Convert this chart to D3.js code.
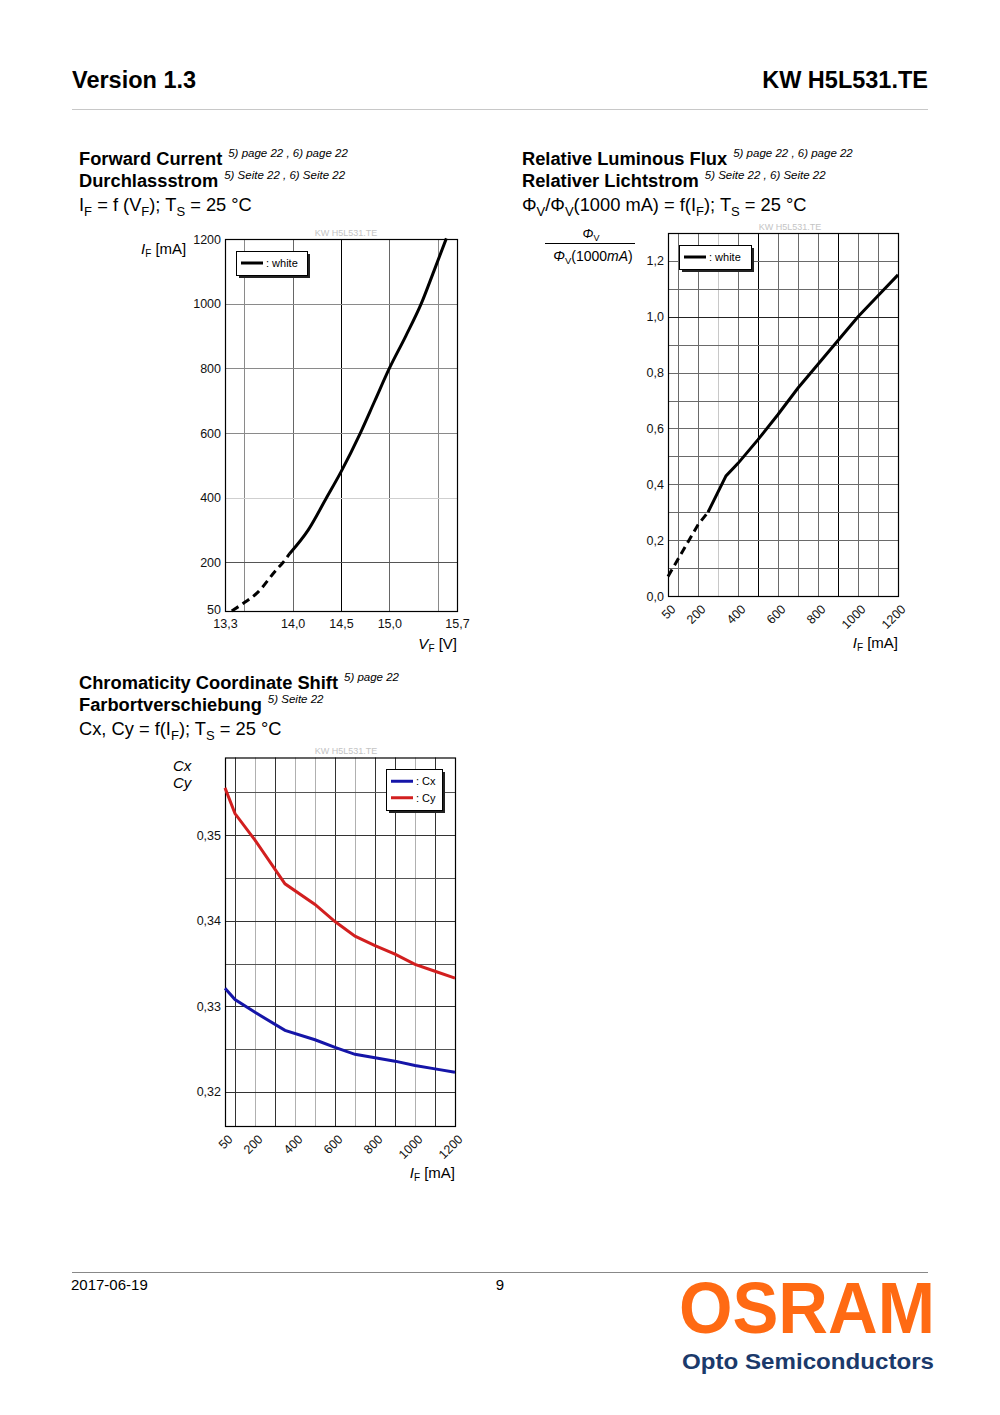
<!DOCTYPE html>
<html><head><meta charset="utf-8">
<script src="https://cdn.jsdelivr.net/npm/d3@7"></script>
<style>
html,body{margin:0;padding:0;background:#fff;}
svg{display:block;font-family:"Liberation Sans",Arial,Helvetica,sans-serif;}
</style></head>
<body>
<svg id="page" width="1000" height="1415"></svg>
<script>
// ---------- DATA ----------
// Chart 1: Forward current vs forward voltage
const vfVolt = [13.37, 13.49, 13.63, 13.83, 13.90, 13.97, 14.16, 14.35, 14.50, 14.70, 14.85, 15.00, 15.17, 15.33, 15.46, 15.59];
const vfCurrent = [50, 74, 105, 177, 200, 228, 300, 400, 480, 600, 700, 800, 900, 1000, 1100, 1202];
const vfDashedUntil = 5; // index where dashed part ends
const vfXTicks = [13.3, 14.0, 14.5, 15.0, 15.7];
const vfXGrid = [13.5, 14.0, 14.5, 15.0, 15.5];
const vfYTicks = [50, 200, 400, 600, 800, 1000, 1200];
const vfYGrid = [200, 400, 600, 800, 1000];

// Chart 2: Relative luminous flux vs forward current
const fluxCurrent = [50, 200, 250, 340, 400, 500, 600, 700, 800, 900, 1000, 1100, 1200];
const fluxRel = [0.07, 0.255, 0.30, 0.43, 0.475, 0.56, 0.65, 0.745, 0.83, 0.915, 1.0, 1.075, 1.15];
const fluxDashedUntil = 2;
const fluxXTicks = [50, 200, 400, 600, 800, 1000, 1200];
const fluxXGrid = [100, 200, 300, 400, 500, 600, 700, 800, 900, 1000, 1100];
const fluxYTicks = [0.0, 0.2, 0.4, 0.6, 0.8, 1.0, 1.2];
const fluxYGrid = [0.1, 0.2, 0.3, 0.4, 0.5, 0.6, 0.7, 0.8, 0.9, 1.0, 1.1, 1.2];

// Chart 3: Chromaticity coordinate shift
const chromCurrent = [50, 100, 200, 350, 500, 600, 700, 800, 900, 1000, 1100, 1200];
const chromCx = [0.3321, 0.3308, 0.3293, 0.3272, 0.3261, 0.3252, 0.3244, 0.3240, 0.3236, 0.3231, 0.3227, 0.3223];
const chromCy = [0.3555, 0.3525, 0.3494, 0.3443, 0.3419, 0.3399, 0.3382, 0.3371, 0.3361, 0.3349, 0.3341, 0.3333];
const chromXTicks = [50, 200, 400, 600, 800, 1000, 1200];
const chromXGrid = [100, 200, 300, 400, 500, 600, 700, 800, 900, 1000, 1100];
const chromYTicks = [0.32, 0.33, 0.34, 0.35];
const chromYGrid = [0.32, 0.325, 0.33, 0.335, 0.34, 0.345, 0.35, 0.355];

// ---------- STYLE ----------
const svg = d3.select("#page");
const fmtComma = d => d.toFixed(1).replace(".", ",");
const fmtComma2 = d => d.toFixed(2).replace(".", ",");

// header
svg.append("text").attr("x", 72).attr("y", 88).attr("font-size", 23.5).attr("font-weight", "bold").text("Version 1.3");
svg.append("text").attr("x", 928).attr("y", 88).attr("font-size", 23.5).attr("font-weight", "bold").attr("text-anchor", "end").text("KW H5L531.TE");
svg.append("line").attr("x1", 72).attr("x2", 928).attr("y1", 109.5).attr("y2", 109.5).attr("stroke", "#c8c8c8").attr("stroke-width", 1);

// footer
svg.append("line").attr("x1", 72).attr("x2", 928).attr("y1", 1272.5).attr("y2", 1272.5).attr("stroke", "#888").attr("stroke-width", 1);
svg.append("text").attr("x", 71).attr("y", 1290).attr("font-size", 15).text("2017-06-19");
svg.append("text").attr("x", 500).attr("y", 1290).attr("font-size", 15).attr("text-anchor", "middle").text("9");
svg.append("text").attr("x", 679).attr("y", 1333).attr("font-size", 72).attr("font-weight", "bold")
  .attr("fill", "#ff6a13").attr("textLength", 256).attr("lengthAdjust", "spacingAndGlyphs").text("OSRAM");
svg.append("text").attr("x", 682).attr("y", 1369).attr("font-size", 22).attr("font-weight", "bold")
  .attr("fill", "#1b3a6b").attr("textLength", 252).attr("lengthAdjust", "spacingAndGlyphs").text("Opto Semiconductors");

// title helper
function titleBlock(x, y, l1, s1, l2, s2) {
  const t1 = svg.append("text").attr("x", x).attr("y", y).attr("font-size", 18.3).attr("font-weight", "bold").text(l1);
  const w1 = t1.node().getComputedTextLength();
  svg.append("text").attr("x", x + w1 + 6).attr("y", y - 8).attr("font-size", 11.5).attr("font-style", "italic").text(s1);
  const t2 = svg.append("text").attr("x", x).attr("y", y + 22).attr("font-size", 18.3).attr("font-weight", "bold").text(l2);
  const w2 = t2.node().getComputedTextLength();
  svg.append("text").attr("x", x + w2 + 6).attr("y", y + 14).attr("font-size", 11.5).attr("font-style", "italic").text(s2);
}
function formula(x, y, arr) { // "_X" denotes subscript
  const t = svg.append("text").attr("x", x).attr("y", y).attr("font-size", 18.3);
  let prevSub = false;
  arr.forEach(s => {
    if (s.startsWith("_")) { t.append("tspan").attr("font-size", 13).attr("dy", 5).text(s.slice(1)); prevSub = true; }
    else { t.append("tspan").attr("dy", prevSub ? -5 : 0).text(s); prevSub = false; }
  });
  return t;
}

titleBlock(79, 165, "Forward Current", "5) page 22 , 6) page 22", "Durchlassstrom", "5) Seite 22 , 6) Seite 22");
formula(79, 211, ["I", "_F", " = f (V", "_F", "); T", "_S", " = 25 °C"]);
titleBlock(522, 165, "Relative Luminous Flux", "5) page 22 , 6) page 22", "Relativer Lichtstrom", "5) Seite 22 , 6) Seite 22");
formula(522, 211, ["Φ", "_V", "/Φ", "_V", "(1000 mA) = f(I", "_F", "); T", "_S", " = 25 °C"]);
titleBlock(79, 689, "Chromaticity Coordinate Shift", "5) page 22", "Farbortverschiebung", "5) Seite 22");
formula(79, 735, ["Cx, Cy = f(I", "_F", "); T", "_S", " = 25 °C"]);

// ---------- chart helpers ----------
function frameAndGrid(g, x, y, xGrid, yGrid, xColor, yColor) {
  const [x0, x1] = x.range(), [y0, y1] = y.range();
  g.append("g").selectAll("line").data(xGrid).join("line")
    .attr("x1", d => Math.round(x(d)) + 0.5).attr("x2", d => Math.round(x(d)) + 0.5)
    .attr("y1", y1).attr("y2", y0).attr("stroke", d => xColor(d)).attr("stroke-width", 1);
  g.append("g").selectAll("line").data(yGrid).join("line")
    .attr("y1", d => Math.round(y(d)) + 0.5).attr("y2", d => Math.round(y(d)) + 0.5)
    .attr("x1", x0).attr("x2", x1).attr("stroke", d => yColor(d)).attr("stroke-width", 1);
  g.append("rect").attr("x", x0 + 0.5).attr("y", y1 + 0.5).attr("width", x1 - x0).attr("height", y0 - y1)
    .attr("fill", "none").attr("stroke", "#000").attr("stroke-width", 1.2);
}
function yAxis(g, x, y, ticks, fmt) {
  const ax = g.append("g").attr("transform", `translate(${x.range()[0] - 4},0)`)
    .call(d3.axisLeft(y).tickValues(ticks).tickSize(0).tickPadding(0).tickFormat(fmt));
  ax.select(".domain").remove();
  ax.selectAll("text").attr("font-size", 12.5).attr("font-family", "Liberation Sans, Arial, sans-serif").attr("fill", "#111");
  return ax;
}
function xAxisRot(g, x, y, ticks) {
  const ax = g.append("g").attr("transform", `translate(0,${y.range()[0]})`)
    .call(d3.axisBottom(x).tickValues(ticks).tickSize(0).tickFormat(d3.format("d")));
  ax.select(".domain").remove();
  ax.selectAll("text").attr("font-size", 12.5).attr("font-family", "Liberation Sans, Arial, sans-serif").attr("fill", "#111")
    .attr("text-anchor", "end").attr("dy", 0).attr("y", 0)
    .attr("transform", "translate(8,14) rotate(-45)");
  return ax;
}
function legend(g, x, y, w, h, items) {
  g.append("rect").attr("x", x + 3).attr("y", y + 3).attr("width", w).attr("height", h).attr("fill", "#222");
  g.append("rect").attr("x", x + 0.5).attr("y", y + 0.5).attr("width", w).attr("height", h).attr("fill", "#fff").attr("stroke", "#000").attr("stroke-width", 1);
  items.forEach((it, i) => {
    const cy = y + (h / (items.length)) * (i + 0.5) + (items.length > 1 ? (i === 0 ? 2 : -2) : 0);
    g.append("line").attr("x1", x + 5).attr("x2", x + 27).attr("y1", cy).attr("y2", cy).attr("stroke", it.color).attr("stroke-width", 3);
    g.append("text").attr("x", x + 30).attr("y", cy + 4).attr("font-size", 11).text(it.label);
  });
}
function watermark(x, y) {
  svg.append("text").attr("x", x).attr("y", y).attr("font-size", 9).attr("fill", "#c4c4c4").attr("text-anchor", "middle").text("KW H5L531.TE");
}

// ---------- Chart 1 ----------
{
  const g = svg.append("g");
  const x = d3.scaleLinear().domain([13.3, 15.7]).range([225, 457]);
  const y = d3.scaleLinear().domain([50, 1200]).range([611, 239]);
  const xc = d => d === 14.5 ? "#000" : (d === 14.0 || d === 15.0 ? "#666" : "#8a8a8a");
  const yc = d => d === 400 ? "#cfcfcf" : (d === 200 ? "#555" : "#8a8a8a");
  frameAndGrid(g, x, y, vfXGrid, vfYGrid, xc, yc);
  const ya = yAxis(g, x, y, vfYTicks, d3.format("d"));
  ya.selectAll(".tick").filter(d => d === 50).select("text").attr("dy", "0.2em");
  const ax = g.append("g").attr("transform", `translate(0,${y.range()[0]})`)
    .call(d3.axisBottom(x).tickValues(vfXTicks).tickSize(0).tickPadding(8).tickFormat(fmtComma));
  ax.select(".domain").remove();
  ax.selectAll("text").attr("font-size", 12.5).attr("font-family", "Liberation Sans, Arial, sans-serif").attr("fill", "#111");
  const pts = vfVolt.map((v, i) => [v, vfCurrent[i]]);
  const line = d3.line().x(d => x(d[0])).y(d => y(d[1])).curve(d3.curveMonotoneX);
  g.append("path").attr("d", line(pts.slice(0, vfDashedUntil + 1))).attr("fill", "none").attr("stroke", "#000").attr("stroke-width", 3).attr("stroke-dasharray", "8,5");
  g.append("path").attr("d", line(pts.slice(vfDashedUntil))).attr("fill", "none").attr("stroke", "#000").attr("stroke-width", 3);
  legend(g, 236, 251, 71, 24, [{ color: "#000", label: ": white" }]);
  watermark(346, 236);
  const t = g.append("text").attr("x", 141).attr("y", 254).attr("font-size", 15);
  t.append("tspan").attr("font-style", "italic").text("I");
  t.append("tspan").attr("font-size", 10).attr("dy", 3).text("F");
  t.append("tspan").attr("dy", -3).text(" [mA]");
  const t2 = g.append("text").attr("x", 457).attr("y", 649).attr("font-size", 15).attr("text-anchor", "end");
  t2.append("tspan").attr("font-style", "italic").text("V");
  t2.append("tspan").attr("font-size", 10).attr("dy", 3).text("F");
  t2.append("tspan").attr("dy", -3).text(" [V]");
}

// ---------- Chart 2 ----------
{
  const g = svg.append("g");
  const x = d3.scaleLinear().domain([50, 1200]).range([668, 898]);
  const y = d3.scaleLinear().domain([0, 1.3]).range([596, 233]);
  const xc = d => (d === 500 || d === 900) ? "#000" : (d === 300 ? "#c8c8c8" : "#6a6a6a");
  const yc = d => (Math.abs(d - 1.0) < 1e-9) ? "#222" : "#6a6a6a";
  frameAndGrid(g, x, y, fluxXGrid, fluxYGrid, xc, yc);
  yAxis(g, x, y, fluxYTicks, fmtComma);
  xAxisRot(g, x, y, fluxXTicks);
  const pts = fluxCurrent.map((v, i) => [v, fluxRel[i]]);
  const line = d3.line().x(d => x(d[0])).y(d => y(d[1]));
  g.append("path").attr("d", line(pts.slice(0, fluxDashedUntil + 1))).attr("fill", "none").attr("stroke", "#000").attr("stroke-width", 3).attr("stroke-dasharray", "8,5");
  g.append("path").attr("d", line(pts.slice(fluxDashedUntil))).attr("fill", "none").attr("stroke", "#000").attr("stroke-width", 3);
  legend(g, 679, 245, 72, 24, [{ color: "#000", label: ": white" }]);
  watermark(790, 230);
  const n = g.append("text").attr("x", 591).attr("y", 238).attr("font-size", 13).attr("text-anchor", "middle");
  n.append("tspan").attr("font-style", "italic").text("Φ");
  n.append("tspan").attr("font-size", 9).attr("dy", 3).text("V");
  g.append("line").attr("x1", 545).attr("x2", 635).attr("y1", 243.5).attr("y2", 243.5).attr("stroke", "#000").attr("stroke-width", 1);
  const d = g.append("text").attr("x", 593).attr("y", 261).attr("font-size", 14).attr("text-anchor", "middle");
  d.append("tspan").attr("font-style", "italic").text("Φ");
  d.append("tspan").attr("font-size", 9.5).attr("dy", 3).text("V");
  d.append("tspan").attr("dy", -3).text("(1000");
  d.append("tspan").attr("font-style", "italic").text("mA");
  d.append("tspan").text(")");
  const t2 = g.append("text").attr("x", 898).attr("y", 648).attr("font-size", 15).attr("text-anchor", "end");
  t2.append("tspan").attr("font-style", "italic").text("I");
  t2.append("tspan").attr("font-size", 10).attr("dy", 3).text("F");
  t2.append("tspan").attr("dy", -3).text(" [mA]");
}

// ---------- Chart 3 ----------
{
  const g = svg.append("g");
  const x = d3.scaleLinear().domain([50, 1200]).range([225, 455]);
  const y = d3.scaleLinear().domain([0.31603, 0.35905]).range([1126, 757.5]);
  const xc = d => [100, 300, 600, 800, 900, 1100].includes(d) ? "#333" : "#b0b0b0";
  const yc = d => [0.325, 0.335, 0.345, 0.355].includes(d) ? "#555" : "#333";
  frameAndGrid(g, x, y, chromXGrid, chromYGrid, xc, yc);
  yAxis(g, x, y, chromYTicks, fmtComma2);
  xAxisRot(g, x, y, chromXTicks);
  const line = d3.line().x(d => x(d[0])).y(d => y(d[1]));
  g.append("path").attr("d", line(chromCurrent.map((v, i) => [v, chromCy[i]]))).attr("fill", "none").attr("stroke", "#d21f1f").attr("stroke-width", 3);
  g.append("path").attr("d", line(chromCurrent.map((v, i) => [v, chromCx[i]]))).attr("fill", "none").attr("stroke", "#1515a8").attr("stroke-width", 3);
  legend(g, 386, 769, 56, 41, [{ color: "#1515a8", label: ": Cx" }, { color: "#d21f1f", label: ": Cy" }]);
  watermark(346, 754);
  g.append("text").attr("x", 173).attr("y", 771).attr("font-size", 15).attr("font-style", "italic").text("Cx");
  g.append("text").attr("x", 173).attr("y", 788).attr("font-size", 15).attr("font-style", "italic").text("Cy");
  const t2 = g.append("text").attr("x", 455).attr("y", 1178).attr("font-size", 15).attr("text-anchor", "end");
  t2.append("tspan").attr("font-style", "italic").text("I");
  t2.append("tspan").attr("font-size", 10).attr("dy", 3).text("F");
  t2.append("tspan").attr("dy", -3).text(" [mA]");
}
</script>
</body></html>
